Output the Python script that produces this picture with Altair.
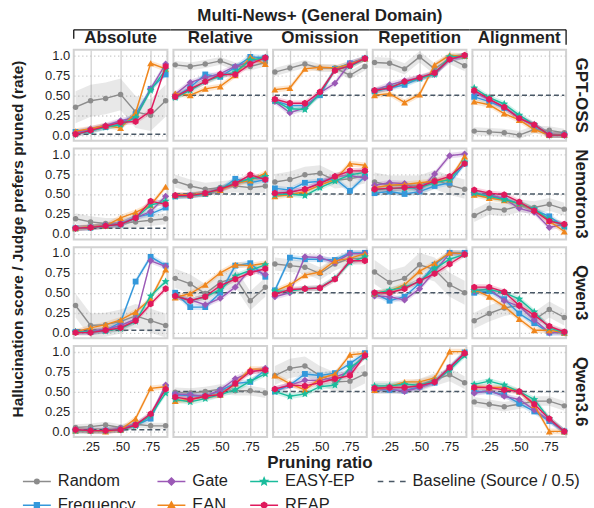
import math
import altair as alt
import pandas as pd

RATIOS = [0.125, 0.25, 0.375, 0.5, 0.625, 0.75, 0.875]
MODELS = ["GPT-OSS", "Nemotron3", "Qwen3", "Qwen3.6"]
METRICS = ["Absolute", "Relative", "Omission", "Repetition", "Alignment"]
METHODS = ["Random", "Frequency", "Gate", "EAN", "EASY-EP", "REAP"]
COLORS = {"Random": "#8c8c8c", "Frequency": "#3498db", "Gate": "#9b59b6",
          "EAN": "#f0861c", "EASY-EP": "#1abc9c", "REAP": "#e0195c"}
BASELINE_COLOR = "#4a5866"
BASELINE_LABEL = "Baseline (Source / 0.5)"
SUPTITLE = "Multi-News+ (General Domain)"
X_TITLE = "Pruning ratio"
Y_TITLE = "Hallucination score / Judge prefers pruned (rate)"

# ---------------- GPT-OSS ----------------
GPTOSS_ABSOLUTE = {
    "Random":    [0.35, 0.43, 0.46, 0.51, 0.29, 0.25, 0.43],
    "Frequency": [0.04, 0.06, 0.10, 0.14, 0.26, 0.58, 0.76],
    "Gate":      [0.03, 0.08, 0.12, 0.18, 0.22, 0.58, 0.89],
    "EAN":       [0.05, 0.08, 0.12, 0.09, 0.28, 0.90, 0.83],
    "EASY-EP":   [0.01, 0.05, 0.10, 0.13, 0.22, 0.56, 0.82],
    "REAP":      [0.01, 0.06, 0.11, 0.16, 0.17, 0.30, 0.86],
}
GPTOSS_RELATIVE = {
    "Random":    [0.88, 0.86, 0.89, 0.93, 0.86, 0.86, 0.91],
    "Frequency": [0.48, 0.60, 0.76, 0.73, 0.85, 0.98, 0.97],
    "Gate":      [0.51, 0.66, 0.72, 0.77, 0.86, 0.92, 0.97],
    "EAN":       [0.52, 0.50, 0.58, 0.61, 0.75, 0.98, 0.89],
    "EASY-EP":   [0.47, 0.56, 0.67, 0.74, 0.79, 0.94, 0.97],
    "REAP":      [0.48, 0.58, 0.67, 0.76, 0.76, 0.89, 0.97],
}
GPTOSS_OMISSION = {
    "Random":    [0.79, 0.84, 0.89, 0.84, 0.84, 0.75, 0.86],
    "Frequency": [0.43, 0.37, 0.37, 0.50, 0.83, 0.90, 0.96],
    "Gate":      [0.42, 0.28, 0.34, 0.53, 0.65, 0.90, 0.96],
    "EAN":       [0.57, 0.59, 0.83, 0.85, 0.84, 0.89, 0.96],
    "EASY-EP":   [0.43, 0.33, 0.32, 0.52, 0.82, 0.86, 0.96],
    "REAP":      [0.45, 0.40, 0.40, 0.54, 0.81, 0.87, 0.96],
}
GPTOSS_REPETITION = {
    "Random":    [0.91, 0.90, 0.83, 0.98, 0.83, 0.96, 0.87],
    "Frequency": [0.55, 0.59, 0.63, 0.71, 0.78, 0.95, 0.99],
    "Gate":      [0.56, 0.63, 0.68, 0.72, 0.76, 0.95, 0.99],
    "EAN":       [0.50, 0.52, 0.41, 0.51, 0.88, 1.00, 0.99],
    "EASY-EP":   [0.55, 0.60, 0.66, 0.71, 0.76, 0.98, 0.99],
    "REAP":      [0.56, 0.59, 0.67, 0.72, 0.78, 0.95, 1.00],
}
GPTOSS_ALIGNMENT = {
    "Random":    [0.05, 0.04, 0.03, 0.00, 0.07, 0.06, 0.03],
    "Frequency": [0.48, 0.42, 0.34, 0.22, 0.12, 0.00, 0.00],
    "Gate":      [0.54, 0.44, 0.35, 0.22, 0.12, 0.01, 0.00],
    "EAN":       [0.42, 0.38, 0.27, 0.19, 0.07, 0.00, 0.00],
    "EASY-EP":   [0.59, 0.47, 0.39, 0.25, 0.13, 0.00, 0.00],
    "REAP":      [0.56, 0.45, 0.35, 0.21, 0.13, 0.00, 0.00],
}
# ---------------- Nemotron3 ----------------
NEMO_ABSOLUTE = {
    "Random":    [0.19, 0.15, 0.13, 0.13, 0.15, 0.17, 0.19],
    "Frequency": [0.07, 0.08, 0.10, 0.12, 0.21, 0.25, 0.33],
    "Gate":      [0.07, 0.08, 0.11, 0.13, 0.20, 0.28, 0.47],
    "EAN":       [0.07, 0.09, 0.10, 0.20, 0.27, 0.36, 0.59],
    "EASY-EP":   [0.07, 0.08, 0.10, 0.12, 0.20, 0.36, 0.41],
    "REAP":      [0.07, 0.08, 0.10, 0.12, 0.20, 0.41, 0.37],
}
NEMO_RELATIVE = {
    "Random":    [0.66, 0.60, 0.56, 0.58, 0.60, 0.58, 0.60],
    "Frequency": [0.47, 0.48, 0.50, 0.55, 0.69, 0.64, 0.68],
    "Gate":      [0.48, 0.48, 0.51, 0.57, 0.62, 0.70, 0.70],
    "EAN":       [0.49, 0.49, 0.51, 0.55, 0.63, 0.67, 0.76],
    "EASY-EP":   [0.47, 0.48, 0.50, 0.57, 0.64, 0.69, 0.72],
    "REAP":      [0.48, 0.48, 0.51, 0.56, 0.63, 0.74, 0.68],
}
NEMO_OMISSION = {
    "Random":    [0.65, 0.68, 0.74, 0.76, 0.67, 0.69, 0.73],
    "Frequency": [0.57, 0.55, 0.64, 0.66, 0.69, 0.54, 0.72],
    "Gate":      [0.50, 0.53, 0.56, 0.64, 0.72, 0.73, 0.70],
    "EAN":       [0.47, 0.49, 0.53, 0.61, 0.68, 0.88, 0.86],
    "EASY-EP":   [0.49, 0.50, 0.48, 0.58, 0.66, 0.74, 0.77],
    "REAP":      [0.51, 0.52, 0.56, 0.63, 0.72, 0.79, 0.79],
}
NEMO_REPETITION = {
    "Random":    [0.65, 0.61, 0.61, 0.61, 0.68, 0.61, 0.56],
    "Frequency": [0.51, 0.53, 0.50, 0.53, 0.60, 0.64, 0.88],
    "Gate":      [0.61, 0.64, 0.63, 0.54, 0.75, 0.98, 1.00],
    "EAN":       [0.58, 0.61, 0.62, 0.64, 0.66, 0.68, 0.97],
    "EASY-EP":   [0.55, 0.57, 0.57, 0.58, 0.64, 0.68, 0.90],
    "REAP":      [0.56, 0.57, 0.58, 0.59, 0.66, 0.72, 0.88],
}
NEMO_ALIGNMENT = {
    "Random":    [0.23, 0.32, 0.30, 0.35, 0.33, 0.37, 0.31],
    "Frequency": [0.51, 0.48, 0.44, 0.38, 0.30, 0.22, 0.09],
    "Gate":      [0.50, 0.49, 0.44, 0.32, 0.27, 0.08, 0.12],
    "EAN":       [0.49, 0.45, 0.42, 0.38, 0.30, 0.16, 0.03],
    "EASY-EP":   [0.51, 0.47, 0.43, 0.38, 0.31, 0.18, 0.10],
    "REAP":      [0.55, 0.51, 0.49, 0.40, 0.29, 0.16, 0.12],
}
# ---------------- Qwen3 ----------------
QWEN3_ABSOLUTE = {
    "Random":    [0.34, 0.09, 0.10, 0.14, 0.21, 0.15, 0.09],
    "Frequency": [0.01, 0.01, 0.03, 0.13, 0.64, 0.95, 0.84],
    "Gate":      [0.01, 0.02, 0.04, 0.09, 0.17, 0.90, 0.83],
    "EAN":       [0.01, 0.06, 0.10, 0.16, 0.26, 0.42, 0.79],
    "EASY-EP":   [0.01, 0.01, 0.02, 0.05, 0.14, 0.46, 0.64],
    "REAP":      [0.00, 0.00, 0.03, 0.06, 0.15, 0.36, 0.55],
}
QWEN3_RELATIVE = {
    "Random":    [0.68, 0.61, 0.49, 0.63, 0.69, 0.40, 0.57],
    "Frequency": [0.50, 0.32, 0.32, 0.50, 0.84, 0.87, 0.70],
    "Gate":      [0.46, 0.41, 0.35, 0.43, 0.57, 0.80, 0.73],
    "EAN":       [0.44, 0.49, 0.60, 0.75, 0.85, 0.84, 0.87],
    "EASY-EP":   [0.46, 0.40, 0.45, 0.54, 0.71, 0.78, 0.85],
    "REAP":      [0.46, 0.40, 0.45, 0.59, 0.67, 0.75, 0.80],
}
QWEN3_OMISSION = {
    "Random":    [0.86, 0.84, 0.82, 0.74, 0.86, 0.93, 0.93],
    "Frequency": [0.53, 0.94, 0.92, 0.92, 0.91, 1.00, 1.00],
    "Gate":      [0.45, 0.50, 0.95, 0.94, 0.88, 0.99, 0.99],
    "EAN":       [0.52, 0.60, 0.72, 0.76, 0.90, 0.93, 0.99],
    "EASY-EP":   [0.52, 0.52, 0.55, 0.56, 0.68, 0.88, 0.95],
    "REAP":      [0.48, 0.54, 0.55, 0.56, 0.67, 0.90, 0.90],
}
QWEN3_REPETITION = {
    "Random":    [0.76, 0.63, 0.68, 0.85, 0.79, 0.60, 0.50],
    "Frequency": [0.49, 0.40, 0.45, 0.62, 0.85, 1.00, 1.00],
    "Gate":      [0.46, 0.45, 0.41, 0.55, 0.77, 0.99, 0.99],
    "EAN":       [0.49, 0.52, 0.60, 0.77, 0.87, 1.00, 0.99],
    "EASY-EP":   [0.49, 0.53, 0.57, 0.64, 0.80, 0.92, 0.98],
    "REAP":      [0.50, 0.50, 0.55, 0.65, 0.74, 0.86, 0.98],
}
QWEN3_ALIGNMENT = {
    "Random":    [0.15, 0.24, 0.31, 0.34, 0.16, 0.29, 0.19],
    "Frequency": [0.50, 0.52, 0.42, 0.24, 0.12, 0.00, 0.00],
    "Gate":      [0.52, 0.55, 0.40, 0.33, 0.16, 0.00, 0.00],
    "EAN":       [0.54, 0.45, 0.33, 0.17, 0.03, 0.03, 0.00],
    "EASY-EP":   [0.53, 0.54, 0.50, 0.42, 0.26, 0.06, 0.00],
    "REAP":      [0.57, 0.57, 0.51, 0.34, 0.22, 0.08, 0.01],
}
# ---------------- Qwen3.6 ----------------
QWEN36_ABSOLUTE = {
    "Random":    [0.05, 0.06, 0.08, 0.05, 0.09, 0.07, 0.07],
    "Frequency": [0.01, 0.01, 0.01, 0.02, 0.08, 0.16, 0.55],
    "Gate":      [0.02, 0.01, 0.01, 0.04, 0.09, 0.20, 0.58],
    "EAN":       [0.01, 0.01, 0.00, 0.02, 0.16, 0.54, 0.56],
    "EASY-EP":   [0.01, 0.01, 0.01, 0.02, 0.07, 0.20, 0.48],
    "REAP":      [0.02, 0.01, 0.01, 0.02, 0.08, 0.22, 0.53],
}
QWEN36_RELATIVE = {
    "Random":    [0.49, 0.48, 0.50, 0.53, 0.51, 0.51, 0.48],
    "Frequency": [0.46, 0.45, 0.44, 0.51, 0.60, 0.62, 0.77],
    "Gate":      [0.47, 0.46, 0.44, 0.52, 0.66, 0.74, 0.79],
    "EAN":       [0.38, 0.40, 0.44, 0.46, 0.60, 0.78, 0.78],
    "EASY-EP":   [0.40, 0.37, 0.41, 0.46, 0.52, 0.63, 0.72],
    "REAP":      [0.43, 0.40, 0.44, 0.46, 0.60, 0.75, 0.77],
}
QWEN36_OMISSION = {
    "Random":    [0.70, 0.79, 0.82, 0.70, 0.62, 0.63, 0.72],
    "Frequency": [0.50, 0.58, 0.72, 0.70, 0.73, 0.85, 0.98],
    "Gate":      [0.53, 0.58, 0.64, 0.64, 0.68, 0.75, 0.97],
    "EAN":       [0.70, 0.60, 0.52, 0.66, 0.72, 0.96, 0.98],
    "EASY-EP":   [0.50, 0.44, 0.47, 0.56, 0.58, 0.80, 0.93],
    "REAP":      [0.53, 0.58, 0.57, 0.61, 0.66, 0.70, 0.95],
}
QWEN36_REPETITION = {
    "Random":    [0.55, 0.55, 0.55, 0.58, 0.65, 0.71, 0.61],
    "Frequency": [0.52, 0.52, 0.51, 0.56, 0.61, 0.80, 0.99],
    "Gate":      [0.52, 0.53, 0.50, 0.55, 0.62, 0.78, 0.98],
    "EAN":       [0.52, 0.56, 0.62, 0.62, 0.67, 1.00, 1.00],
    "EASY-EP":   [0.57, 0.57, 0.59, 0.58, 0.63, 0.77, 0.95],
    "REAP":      [0.54, 0.55, 0.55, 0.57, 0.62, 0.80, 0.98],
}
QWEN36_ALIGNMENT = {
    "Random":    [0.37, 0.34, 0.31, 0.34, 0.38, 0.38, 0.32],
    "Frequency": [0.50, 0.50, 0.46, 0.35, 0.25, 0.13, 0.00],
    "Gate":      [0.48, 0.51, 0.44, 0.40, 0.27, 0.14, 0.00],
    "EAN":       [0.56, 0.55, 0.55, 0.50, 0.33, 0.00, 0.00],
    "EASY-EP":   [0.59, 0.63, 0.58, 0.50, 0.40, 0.16, 0.00],
    "REAP":      [0.55, 0.55, 0.52, 0.50, 0.34, 0.16, 0.00],
}

PANELS = {
    "GPT-OSS": [GPTOSS_ABSOLUTE, GPTOSS_RELATIVE, GPTOSS_OMISSION, GPTOSS_REPETITION, GPTOSS_ALIGNMENT],
    "Nemotron3": [NEMO_ABSOLUTE, NEMO_RELATIVE, NEMO_OMISSION, NEMO_REPETITION, NEMO_ALIGNMENT],
    "Qwen3": [QWEN3_ABSOLUTE, QWEN3_RELATIVE, QWEN3_OMISSION, QWEN3_REPETITION, QWEN3_ALIGNMENT],
    "Qwen3.6": [QWEN36_ABSOLUTE, QWEN36_RELATIVE, QWEN36_OMISSION, QWEN36_REPETITION, QWEN36_ALIGNMENT],
}
# baseline: source score for Absolute, 0.5 for pairwise metrics
SOURCE_BASELINE = {"GPT-OSS": 0.01, "Nemotron3": 0.07, "Qwen3": 0.03, "Qwen3.6": 0.02}
PAIRWISE_BASELINE = 0.5
# half-width of the shaded band around Random, per panel (metric order)
RANDOM_BAND = {
    "GPT-OSS":   [0.20, 0.05, 0.05, 0.07, 0.05],
    "Nemotron3": [0.07, 0.08, 0.10, 0.12, 0.08],
    "Qwen3":     [0.15, 0.12, 0.08, 0.15, 0.10],
    "Qwen3.6":   [0.04, 0.06, 0.12, 0.08, 0.06],
}
METHOD_BAND = 0.035

FONT = "Liberation Sans"
TEXT = "#1f1f1f"
W, H = 94, 91.3


def poly_path(points):
    return "M" + "L".join(f"{x:.3f},{y:.3f}" for x, y in points) + "Z"


def star_points(r, inner=0.45):
    pts = []
    for k in range(10):
        a = math.radians(-90 + 36 * k)
        rr = r if k % 2 == 0 else r * inner
        pts.append((rr * math.cos(a), rr * math.sin(a)))
    return pts


def hex_points(r):
    return [(r * math.cos(math.radians(90 + 60 * k)), r * math.sin(math.radians(90 + 60 * k))) for k in range(6)]


def circle_path(r):
    return f"M{r},0A{r},{r} 0 1,1 {-r},0A{r},{r} 0 1,1 {r},0Z"


STAR = poly_path(star_points(1.0))
HEXAGON = poly_path(hex_points(1.0))
MARKERS = {"Random": ("circle", 30), "Frequency": ("square", 34), "Gate": ("diamond", 50),
           "EAN": ("triangle-up", 48), "EASY-EP": (STAR, 70), "REAP": (HEXAGON, 48)}

LINE = "M-1,0H1"
LEG_PATHS = {
    "Random": LINE + circle_path(0.16),
    "Frequency": LINE + "M-0.17,-0.17H0.17V0.17H-0.17Z",
    "Gate": LINE + "M0,-0.25L0.25,0L0,0.25L-0.25,0Z",
    "EAN": LINE + "M0,-0.22L0.22,0.17L-0.22,0.17Z",
    "EASY-EP": LINE + poly_path(star_points(0.24)),
    "REAP": LINE + poly_path(hex_points(0.2)),
    BASELINE_LABEL: "M-1,0H-0.6M-0.2,0H0.2M0.6,0H1",
}
# legend fills column by column (two rows)
LEG_ORDER = ["Random", "Frequency", "Gate", "EAN", "EASY-EP", "REAP", BASELINE_LABEL]
LEG_COLORS = [COLORS.get(k, BASELINE_COLOR) for k in LEG_ORDER]

# ---------------- table ----------------
rows = []
for model in MODELS:
    for j, metric in enumerate(METRICS):
        panel = PANELS[model][j]
        for method in METHODS:
            hw = RANDOM_BAND[model][j] if method == "Random" else METHOD_BAND
            for r, v in zip(RATIOS, panel[method]):
                rows.append(dict(kind="series", model=model, metric=metric, method=method,
                                 ratio=r, value=v, lo=max(v - hw, -0.07), hi=min(v + hw, 1.07)))
        base = SOURCE_BASELINE[model] if metric == "Absolute" else PAIRWISE_BASELINE
        rows.append(dict(kind="baseline", model=model, metric=metric, value=base,
                         x0=RATIOS[0], x1=RATIOS[-1]))
for entry in LEG_ORDER:
    rows.append(dict(kind="legend", model=MODELS[0], metric=METRICS[0], entry=entry,
                     ratio=RATIOS[3], value=0.5))
for metric in METRICS:
    rows.append(dict(kind="bracket", model=MODELS[0], metric=metric))
rows.append(dict(kind="suptitle", model=MODELS[0], metric=METRICS[2], label=SUPTITLE))
rows.append(dict(kind="xtitle", model=MODELS[-1], metric=METRICS[2], label=X_TITLE))
df = pd.DataFrame(rows)

XS = alt.Scale(domain=[0.11, 0.89], nice=False, zero=False)
YS = alt.Scale(domain=[-0.07, 1.07], nice=False, zero=False)
XA = alt.Axis(values=[0.25, 0.5, 0.75], title=None, grid=True, gridDash=[], labelPadding=3,
              labelExpr="replace(format(datum.value, '.2f'), '0.', '.')")
YA = alt.Axis(values=[0, 0.25, 0.5, 0.75, 1.0], title=None, grid=True, gridDash=[1.2, 2.8],
              gridColor="#c4c4c4",
              labelExpr="datum.value == 0 ? '0.0' : (datum.value == 1 ? '1.0' : format(datum.value, '.2f'))")


def X(field="ratio:Q"):
    return alt.X(field, scale=XS, axis=XA)


def Y(field="value:Q"):
    return alt.Y(field, scale=YS, axis=YA)


def series(m):
    return f"datum.kind == 'series' && datum.method == '{m}'"


layers = []
for m in METHODS:
    layers.append(alt.Chart().mark_area(color=COLORS[m], opacity=0.2, clip=True)
                  .encode(x=X(), y=Y("lo:Q"), y2="hi:Q").transform_filter(series(m)))
layers.append(alt.Chart().mark_rule(color=BASELINE_COLOR, strokeDash=[5, 3], strokeWidth=1.5)
              .encode(x=X("x0:Q"), x2="x1:Q", y=Y()).transform_filter("datum.kind == 'baseline'"))
for m in METHODS:
    shape, size = MARKERS[m]
    layers.append(alt.Chart().mark_line(color=COLORS[m], strokeWidth=1.4)
                  .encode(x=X(), y=Y()).transform_filter(series(m)))
    layers.append(alt.Chart().mark_point(color=COLORS[m], shape=shape, size=size, filled=True, opacity=1)
                  .encode(x=X(), y=Y()).transform_filter(series(m)))

LEG = alt.Legend(title=None, orient="none", legendX=-52, legendY=418, columns=4,
                 symbolSize=784, symbolStrokeWidth=1.6, symbolOpacity=1,
                 labelFont=FONT, labelFontSize=16.5, labelColor=TEXT, labelOffset=6,
                 labelLimit=0, columnPadding=18, rowPadding=-3)
layers.append(alt.Chart().mark_point(opacity=0, filled=True)
              .encode(x=X(), y=Y(),
                      fill=alt.Fill("entry:N", scale=alt.Scale(domain=LEG_ORDER, range=LEG_COLORS), legend=LEG),
                      stroke=alt.Stroke("entry:N", scale=alt.Scale(domain=LEG_ORDER, range=LEG_COLORS), legend=LEG),
                      shape=alt.Shape("entry:N", scale=alt.Scale(domain=LEG_ORDER, range=[LEG_PATHS[k] for k in LEG_ORDER]), legend=LEG))
              .transform_filter("datum.kind == 'legend'"))

# overall title, bracket and x title (decoration placed relative to the panels)
BR = dict(color="#111", strokeWidth=1.3)
layers.append(alt.Chart().mark_rule(**BR)
              .encode(x=alt.value(-3), x2=alt.value(W + 3), y=alt.value(-20))
              .transform_filter("datum.kind == 'bracket' && datum.metric != 'Absolute' && datum.metric != 'Alignment'"))
layers.append(alt.Chart().mark_rule(**BR)
              .encode(x=alt.value(0), x2=alt.value(W + 3), y=alt.value(-20))
              .transform_filter("datum.kind == 'bracket' && datum.metric == 'Absolute'"))
layers.append(alt.Chart().mark_rule(**BR)
              .encode(x=alt.value(0), y=alt.value(-20), y2=alt.value(-11))
              .transform_filter("datum.kind == 'bracket' && datum.metric == 'Absolute'"))
layers.append(alt.Chart().mark_rule(**BR)
              .encode(x=alt.value(-3), x2=alt.value(W), y=alt.value(-20))
              .transform_filter("datum.kind == 'bracket' && datum.metric == 'Alignment'"))
layers.append(alt.Chart().mark_rule(**BR)
              .encode(x=alt.value(W), y=alt.value(-20), y2=alt.value(-5))
              .transform_filter("datum.kind == 'bracket' && datum.metric == 'Alignment'"))
layers.append(alt.Chart().mark_text(font=FONT, fontSize=17, fontWeight="bold", color=TEXT,
                                    align="center", baseline="middle")
              .encode(text="label:N", x=alt.value(W / 2), y=alt.value(-34))
              .transform_filter("datum.kind == 'suptitle'"))
layers.append(alt.Chart().mark_text(font=FONT, fontSize=17, fontWeight="bold", color=TEXT,
                                    align="center", baseline="middle")
              .encode(text="label:N", x=alt.value(W / 2), y=alt.value(H + 26.5))
              .transform_filter("datum.kind == 'xtitle'"))

base = alt.layer(*layers, data=df).properties(width=W, height=H)

chart = base.facet(
    row=alt.Row("model:N", sort=MODELS,
                header=alt.Header(title=Y_TITLE,
                                  titleOrient="left", labelOrient="right", labelAngle=90,
                                  labelAlign="center", labelFont=FONT, labelFontSize=17,
                                  labelFontWeight="bold", labelColor=TEXT, labelPadding=6,
                                  titleFont=FONT, titleFontSize=15.5, titleFontWeight="bold",
                                  titleColor=TEXT, titlePadding=7)),
    column=alt.Column("metric:N", sort=METRICS,
                      header=alt.Header(title=None, labelOrient="top", labelFont=FONT,
                                        labelFontSize=17, labelFontWeight="bold",
                                        labelColor=TEXT, labelPadding=3)),
    spacing=alt.RowColnumber(row=7.1, column=6),
    bounds="flush",
).properties(
    padding={"left": 11, "top": 5, "right": 4, "bottom": 4},
).configure_view(
    stroke="#d2d2d2", strokeWidth=2
).configure_axis(
    labelFont=FONT, labelFontSize=13, labelColor=TEXT, ticks=False, domain=False,
    labelPadding=4, gridColor="#d2d2d2", gridWidth=1.3
)

chart.save("out.html", embed_options={"renderer": "svg", "actions": False})
